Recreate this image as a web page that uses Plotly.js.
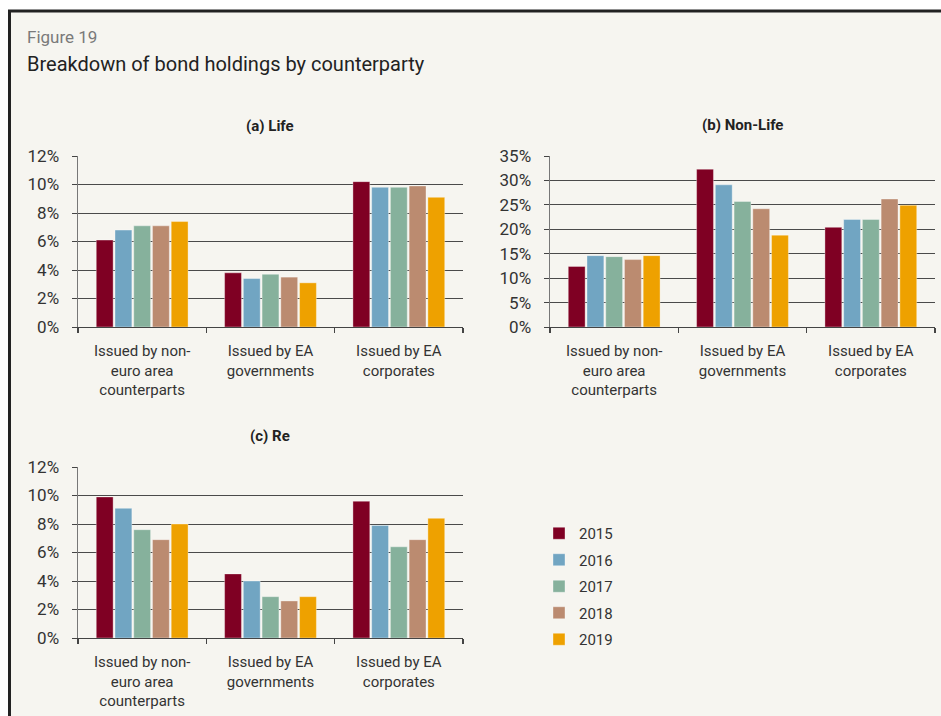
<!DOCTYPE html>
<html>
<head>
<meta charset="utf-8">
<script src="https://cdn.plot.ly/plotly-3.0.1.min.js"></script>
<style>
html,body{margin:0;padding:0;background:#ffffff;}
#chart{width:941px;height:716px;}
</style>
</head>
<body>
<div id="chart"></div>
<script>
// ---- data ----
var categories = ['Issued by non-<br>euro area<br>counterparts', 'Issued by EA<br>governments', 'Issued by EA<br>corporates'];
var years = ['2015', '2016', '2017', '2018', '2019'];
var yearColors = ['#7f0023', '#71a5c2', '#86b19c', '#bb8b70', '#eea100'];

// (a) Life, values in %: [non-euro, EA governments, EA corporates]
var life2015 = [6.1, 3.8, 10.2];
var life2016 = [6.8, 3.4, 9.8];
var life2017 = [7.1, 3.7, 9.8];
var life2018 = [7.1, 3.5, 9.9];
var life2019 = [7.4, 3.1, 9.1];

// (b) Non-Life
var nonlife2015 = [12.4, 32.3, 20.4];
var nonlife2016 = [14.6, 29.1, 22.0];
var nonlife2017 = [14.4, 25.7, 22.0];
var nonlife2018 = [13.8, 24.2, 26.2];
var nonlife2019 = [14.6, 18.8, 24.9];

// (c) Re
var re2015 = [9.9, 4.5, 9.6];
var re2016 = [9.1, 4.0, 7.9];
var re2017 = [7.6, 2.9, 6.4];
var re2018 = [6.9, 2.6, 6.9];
var re2019 = [8.0, 2.9, 8.4];

var lifeSeries = [life2015, life2016, life2017, life2018, life2019];
var nonlifeSeries = [nonlife2015, nonlife2016, nonlife2017, nonlife2018, nonlife2019];
var reSeries = [re2015, re2016, re2017, re2018, re2019];

// ---- layout helpers (pixel -> paper) ----
var W = 941, H = 716;
function px(x){ return x / W; }
function py(y){ return 1 - y / H; }
var BG = '#f6f5f0';
var FONT = 'Roboto, "DejaVu Sans", sans-serif';

var traces = [];
function addPanel(series, xa, ya, legend){
  for (var i = 0; i < years.length; i++){
    traces.push({
      type: 'bar',
      name: years[i],
      x: categories,
      y: series[i],
      xaxis: xa,
      yaxis: ya,
      legendgroup: years[i],
      showlegend: legend,
      marker: {color: yearColors[i], line: {color: 'rgba(255,255,255,0.35)', width: 1}},
      hovertemplate: years[i] + ': %{y:.1f}%<extra></extra>'
    });
  }
}
addPanel(lifeSeries, 'x', 'y', true);
addPanel(nonlifeSeries, 'x2', 'y2', false);
addPanel(reSeries, 'x3', 'y3', false);

function xAxis(domain, anchor){
  return {
    domain: domain, anchor: anchor, type: 'category',
    showline: true, linecolor: '#444', linewidth: 1.2,
    ticks: 'outside', tickson: 'boundaries', ticklen: 5, tickcolor: '#444', tickwidth: 1.2,
    showgrid: false, zeroline: false,
    tickfont: {family: FONT, size: 15, color: '#333'},
    ticklabelstandoff: 10,
    fixedrange: true
  };
}
function yAxis(domain, anchor, max, dtick){
  return {
    domain: domain, anchor: anchor, range: [0, max], dtick: dtick, tick0: 0,
    ticksuffix: '%',
    showline: true, linecolor: '#777', linewidth: 1.5,
    ticks: 'outside', ticklen: 5, tickcolor: '#444', tickwidth: 1,
    showgrid: true, gridcolor: '#4a4a4a', gridwidth: 1,
    zeroline: false,
    tickfont: {family: FONT, size: 17, color: '#333'},
    ticklabelstandoff: 9,
    fixedrange: true
  };
}

var layout = {
  width: W, height: H,
  margin: {l: 0, r: 0, t: 0, b: 0},
  paper_bgcolor: '#ffffff',
  plot_bgcolor: 'rgba(0,0,0,0)',
  font: {family: FONT, color: '#333'},
  barmode: 'group',
  bargap: 0.27,
  bargroupgap: 0.1,
  showlegend: true,
  legend: {
    x: px(539), y: py(517), xanchor: 'left', yanchor: 'top',
    bgcolor: 'rgba(0,0,0,0)',
    font: {family: FONT, size: 15, color: '#333'},
    traceorder: 'grouped',
    tracegroupgap: 4,
    itemclick: false, itemdoubleclick: false
  },
  xaxis: xAxis([px(78), px(463)], 'y'),
  yaxis: yAxis([py(327), py(156)], 'x', 12, 2),
  xaxis2: xAxis([px(550), px(935)], 'y2'),
  yaxis2: yAxis([py(327), py(156)], 'x2', 35, 5),
  xaxis3: xAxis([px(78), px(463)], 'y3'),
  yaxis3: yAxis([py(638), py(467)], 'x3', 12, 2),
  shapes: [{
    type: 'rect', xref: 'paper', yref: 'paper', layer: 'below',
    x0: px(9.5), x1: 1.02, y0: -0.02, y1: py(11),
    fillcolor: BG, line: {color: '#222', width: 3}
  }],
  annotations: [
    {text: 'Figure 19', xref: 'paper', yref: 'paper', x: px(25), y: py(37), xanchor: 'left', yanchor: 'middle',
     showarrow: false, font: {family: FONT, size: 17, color: '#7a7a7a'}},
    {text: 'Breakdown of bond holdings by counterparty', xref: 'paper', yref: 'paper', x: px(25), y: py(64), xanchor: 'left', yanchor: 'middle',
     showarrow: false, font: {family: FONT, size: 20, color: '#222'}},
    {text: '<b>(a) Life</b>', xref: 'paper', yref: 'paper', x: px(270), y: py(126), xanchor: 'center', yanchor: 'middle',
     showarrow: false, font: {family: FONT, size: 15, color: '#222'}},
    {text: '<b>(b) Non-Life</b>', xref: 'paper', yref: 'paper', x: px(742), y: py(125), xanchor: 'center', yanchor: 'middle',
     showarrow: false, font: {family: FONT, size: 15, color: '#222'}},
    {text: '<b>(c) Re</b>', xref: 'paper', yref: 'paper', x: px(270), y: py(436), xanchor: 'center', yanchor: 'middle',
     showarrow: false, font: {family: FONT, size: 15, color: '#222'}}
  ]
};

Plotly.newPlot('chart', traces, layout, {displayModeBar: false, staticPlot: true});
</script>
</body>
</html>
